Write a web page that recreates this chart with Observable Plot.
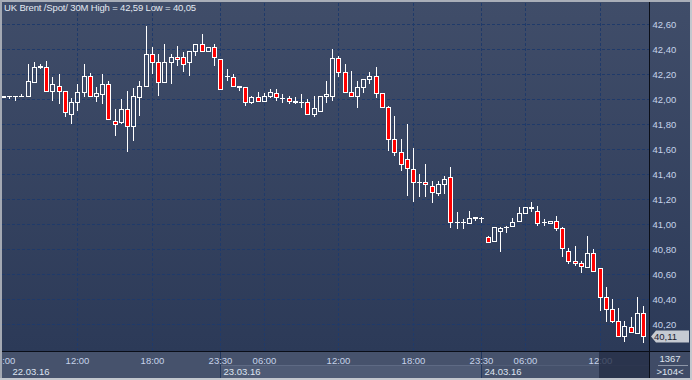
<!DOCTYPE html>
<html><head><meta charset="utf-8">
<script src="https://cdn.jsdelivr.net/npm/d3@7"></script>
<script src="https://cdn.jsdelivr.net/npm/@observablehq/plot@0.6"></script>
<style>
html,body{margin:0;padding:0;background:#2d3b59;}
#wrap{position:relative;width:692px;height:380px;overflow:hidden;font-family:"Liberation Sans",Arial,sans-serif;}
#wrap > *{position:absolute;}
</style></head><body>
<div id="wrap"></div>
<script>
const title = "UK Brent /Spot/ 30M High = 42,59 Low = 40,05";
const firstIndex = -12;
const opens = [
42.02,42.03,42.03,42.03,42.03,42.14,42.255,42.26,42.07,42.11,42.07,41.88,
41.98,42.06,42.19,42.03,42.04,42.12,41.83,41.82,41.92,41.79,42.02,42.11,
42.36,42.30,42.14,42.30,42.34,42.34,42.30,42.39,42.44,42.39,42.42,42.32,
42.19,42.18,42.11,42.10,41.98,42.02,41.99,42.03,42.05,42.01,42.01,41.985,
41.98,41.98,41.88,41.91,42.03,42.03,42.33,42.22,42.06,42.03,42.10,42.16,
42.19,42.05,41.94,41.68,41.58,41.52,41.44,41.34,41.34,41.31,41.25,41.32,
41.38,41.02,41.02,41.01,41.06,41.05,40.90,40.87,40.95,40.975,40.99,41.03,
41.09,41.14,41.11,41.015,41.01,41.03,40.97,40.79,40.71,40.69,40.66,40.77,
40.65,40.42,40.32,40.23,40.11,40.18,40.13,40.29];
const highs = [
42.03,42.03,42.03,42.04,42.28,42.30,42.28,42.31,42.18,42.20,42.07,42.01,
42.12,42.28,42.21,42.10,42.20,42.15,41.92,42.00,42.07,42.09,42.15,42.59,
42.42,42.36,42.44,42.36,42.43,42.38,42.39,42.44,42.52,42.42,42.44,42.32,
42.24,42.20,42.11,42.10,42.03,42.06,42.05,42.08,42.08,42.04,42.03,42.02,
42.04,42.00,42.03,42.03,42.15,42.40,42.35,42.28,42.23,42.15,42.16,42.22,
42.26,42.05,41.95,41.87,41.68,41.80,41.61,41.40,41.48,41.35,41.35,41.39,
41.46,41.10,41.04,41.11,41.06,41.06,40.91,40.98,40.98,40.99,41.05,41.14,
41.14,41.18,41.15,41.04,41.03,41.07,40.98,40.81,40.83,40.71,40.91,40.80,
40.65,40.50,40.40,40.33,40.23,40.26,40.42,40.35];
const lows = [
42.01,42.00,41.99,42.02,42.03,42.13,42.24,42.07,41.99,41.96,41.86,41.80,
41.91,42.02,42.03,41.98,41.96,41.84,41.71,41.80,41.58,41.67,41.87,42.10,
42.20,42.03,42.13,42.12,42.27,42.22,42.19,42.35,42.39,42.38,42.27,42.08,
42.15,42.10,42.07,41.95,41.96,41.98,41.99,42.01,41.99,41.97,41.96,41.96,
41.93,41.88,41.86,41.90,41.97,41.99,42.18,42.06,42.02,41.93,42.05,42.12,
42.01,41.93,41.59,41.55,41.43,41.23,41.18,41.22,41.22,41.17,41.23,41.24,
40.97,40.96,40.96,41.01,41.03,41.01,40.85,40.86,40.78,40.93,40.99,41.03,
41.09,41.10,40.99,40.99,41.01,40.95,40.74,40.68,40.67,40.61,40.66,40.62,
40.31,40.22,40.21,40.10,40.06,40.13,40.13,40.05];
const closes = [
42.03,42.03,42.03,42.03,42.15,42.26,42.265,42.07,42.12,42.07,41.90,41.98,
42.06,42.19,42.03,42.05,42.12,41.84,41.80,41.92,41.79,42.03,42.11,42.36,
42.30,42.14,42.30,42.34,42.32,42.28,42.39,42.44,42.39,42.42,42.34,42.08,
42.19,42.11,42.10,41.98,42.02,41.99,42.03,42.06,42.02,42.01,41.99,41.975,
41.98,41.88,41.93,42.03,42.04,42.33,42.22,42.06,42.03,42.10,42.16,42.19,
42.05,41.94,41.68,41.58,41.48,41.45,41.34,41.34,41.32,41.26,41.32,41.36,
41.02,41.02,41.02,41.05,41.05,41.05,40.86,40.98,40.97,40.975,41.02,41.09,
41.14,41.13,41.01,41.015,41.03,40.97,40.81,40.71,40.69,40.67,40.77,40.63,
40.42,40.32,40.23,40.11,40.19,40.14,40.29,40.11];
const tickIndex = [-12, 0, 12, 23, 30, 42, 54, 65, 72, 84];
const tickLabels = ["06:00","12:00","18:00","23:30","06:00","12:00","18:00","23:30","06:00","12:00"];
const daySeparators = [23, 65];
const dateLabels = ["22.03.16", "23.03.16", "24.03.16"];
const priceTicks = [40.2, 40.4, 40.6, 40.8, 41.0, 41.2, 41.4, 41.6, 41.8, 42.0, 42.2, 42.4, 42.6];
const lastPrice = 40.11;
const totalBars = "1367";
const sessionStart = 84;

const candles = opens.map((o, i) => ({k: firstIndex + i, o, h: highs[i], l: lows[i], c: closes[i]}));
const isDoji = d => Math.abs(d.o - d.c) < 0.006;
const downs = candles.filter(d => !isDoji(d) && d.c < d.o);
const ups = candles.filter(d => !isDoji(d) && d.c >= d.o);
const dojis = candles.filter(isDoji);
const gridIndex = tickIndex.filter(k => k > firstIndex);
const labelOf = new Map(tickIndex.map((k, i) => [k, tickLabels[i]]));
const fmt = v => v.toFixed(2).replace(".", ",");

const W = 692, H = 380, mL = 2, mR = 43, mT = 3, mB = 29;
const GRID = "#1f3a6a";
const body = {x1: "k", x2: "k", y1: "o", y2: "c", insetLeft: -1.5, insetRight: -2.5, insetTop: 0.5, insetBottom: -0.5, stroke: "#ffffff", clip: true};

const chart = Plot.plot({
  width: W, height: H,
  marginLeft: mL, marginRight: mR, marginTop: mT, marginBottom: mB,
  style: {background: "transparent", fontFamily: "'Liberation Sans', Arial, sans-serif", fontSize: "9.5px", color: "#c6d3ea", overflow: "visible"},
  x: {domain: [-12.112, 91.96], round: true, ticks: tickIndex, tickFormat: k => labelOf.get(k), tickSize: 0, tickPadding: 5.5, label: null},
  y: {domain: [39.9864, 42.7704], round: true, axis: "right", ticks: priceTicks, tickFormat: fmt, tickSize: 0, tickPadding: 3, label: null},
  marks: [
    Plot.ruleY(priceTicks, {stroke: GRID, strokeDasharray: "3,2"}),
    Plot.ruleX(gridIndex, {stroke: GRID, strokeDasharray: "3,2"}),
    Plot.ruleX(candles, {x: "k", y1: "h", y2: d => Math.max(d.o, d.c), stroke: "#ffffff", clip: true}),
    Plot.ruleX(candles, {x: "k", y1: d => Math.min(d.o, d.c), y2: "l", stroke: "#ffffff", clip: true}),
    Plot.rect(downs, {...body, fill: "#ff0000"}),
    Plot.rect(ups, {...body, fill: "none"}),
    Plot.ruleY(dojis, {y: "o", x1: "k", x2: "k", insetLeft: -2, insetRight: -3, stroke: "#ffffff", clip: true}),
    Plot.text(dateLabels.slice(0, 1), {x: () => firstIndex, frameAnchor: "bottom", dy: 23.3, dx: 9, textAnchor: "start", lineAnchor: "bottom", fill: "#dde4f0"}),
    Plot.text(dateLabels.slice(1), {x: (d, i) => daySeparators[i], frameAnchor: "bottom", dy: 23.3, dx: 3, textAnchor: "start", lineAnchor: "bottom", fill: "#dde4f0"})
  ]
});

const xs = chart.scale("x"), ys = chart.scale("y");
const wrap = document.getElementById("wrap");
function box(css, text) {
  const d = document.createElement("div");
  d.style.cssText = css;
  if (text != null) d.textContent = text;
  wrap.appendChild(d);
  return d;
}
const plotRight = W - mR, plotBottom = H - mB;
const sep1 = Math.round(xs.apply(daySeparators[0]));
const sep2 = Math.round(xs.apply(daySeparators[1]));
const sess = Math.round(xs.apply(sessionStart)) - 1;

// background layers
box(`left:0;top:0;width:${W}px;height:${H}px;background:linear-gradient(#404d69,#2c3a58 ${plotBottom}px,#2c3a58);`);
box(`left:0;top:${plotBottom + 1}px;width:${plotRight}px;height:${H - plotBottom - 1}px;background:#46526c;`);
box(`left:${sep1 + 1}px;top:365px;width:${sep2 - sep1 - 1}px;height:13px;background:#4f5b75;border-top:1px solid #5e6a84;box-sizing:border-box;`);
box(`left:${sep2 + 1}px;top:365px;width:${plotRight - sep2 - 1}px;height:13px;background:#45516b;border-top:1px solid #515d77;box-sizing:border-box;`);
box(`left:${sep1}px;top:${plotBottom + 1}px;width:1px;height:${H - plotBottom}px;background:#23385f;`);
box(`left:${sep2}px;top:${plotBottom + 1}px;width:1px;height:${H - plotBottom}px;background:#23385f;`);
box(`left:${plotRight + 1}px;top:${plotBottom + 1}px;width:${W - plotRight - 1}px;height:${H - plotBottom - 1}px;background:#3f4b66;`);

chart.style.position = "absolute";
chart.style.left = "0px";
chart.style.top = "0px";
wrap.appendChild(chart);

// overlays
box(`left:${sess}px;top:${plotBottom + 1}px;width:${plotRight - sess}px;height:${H - plotBottom - 3}px;background:rgba(34,44,68,0.78);`);
box(`left:0;top:${plotBottom}px;width:${W}px;height:1px;background:#0a0e18;`);
box(`left:${plotRight}px;top:0;width:1px;height:${H}px;background:#0a0e18;`);
box(`left:0;top:0;width:${W}px;height:2px;background:#a9aeb8;`);
box(`left:0;top:0;width:2px;height:${H}px;background:#a4a9b3;`);
box(`left:${W - 2}px;top:0;width:2px;height:${H}px;background:#c3c7ce;`);
box(`left:0;top:${H - 2}px;width:${W}px;height:2px;background:#c3c7ce;`);
box(`left:4px;top:2px;font-size:9.5px;letter-spacing:-0.15px;color:#e3e8f0;white-space:nowrap;line-height:12px;`, title);
box(`left:${plotRight + 1}px;top:353px;width:${W - plotRight - 3}px;text-align:center;font-size:9.5px;color:#dfe5ef;line-height:11px;`, totalBars);
box(`left:658px;top:365px;width:30px;height:1px;background:#8d96a8;`);
box(`left:${plotRight + 1}px;top:366px;width:${W - plotRight - 3}px;text-align:center;font-size:9.5px;color:#dfe5ef;line-height:11px;`, ">" + candles.length + "<");

// last price tag
const yc = Math.round(ys.apply(lastPrice));
const svg = d3.select(chart);
const tag = svg.append("g");
tag.append("path").attr("d", `M${plotRight + 2},${yc + 0.5}L${plotRight + 7},${yc - 5.5}H${W - 3}V${yc + 6.5}H${plotRight + 7}Z`).attr("fill", "#c6cad2");
tag.append("text").attr("x", plotRight + 5).attr("y", yc + 4.2).attr("text-anchor", "start").attr("fill", "#1b2131").text(fmt(lastPrice));
</script>
</body></html>
